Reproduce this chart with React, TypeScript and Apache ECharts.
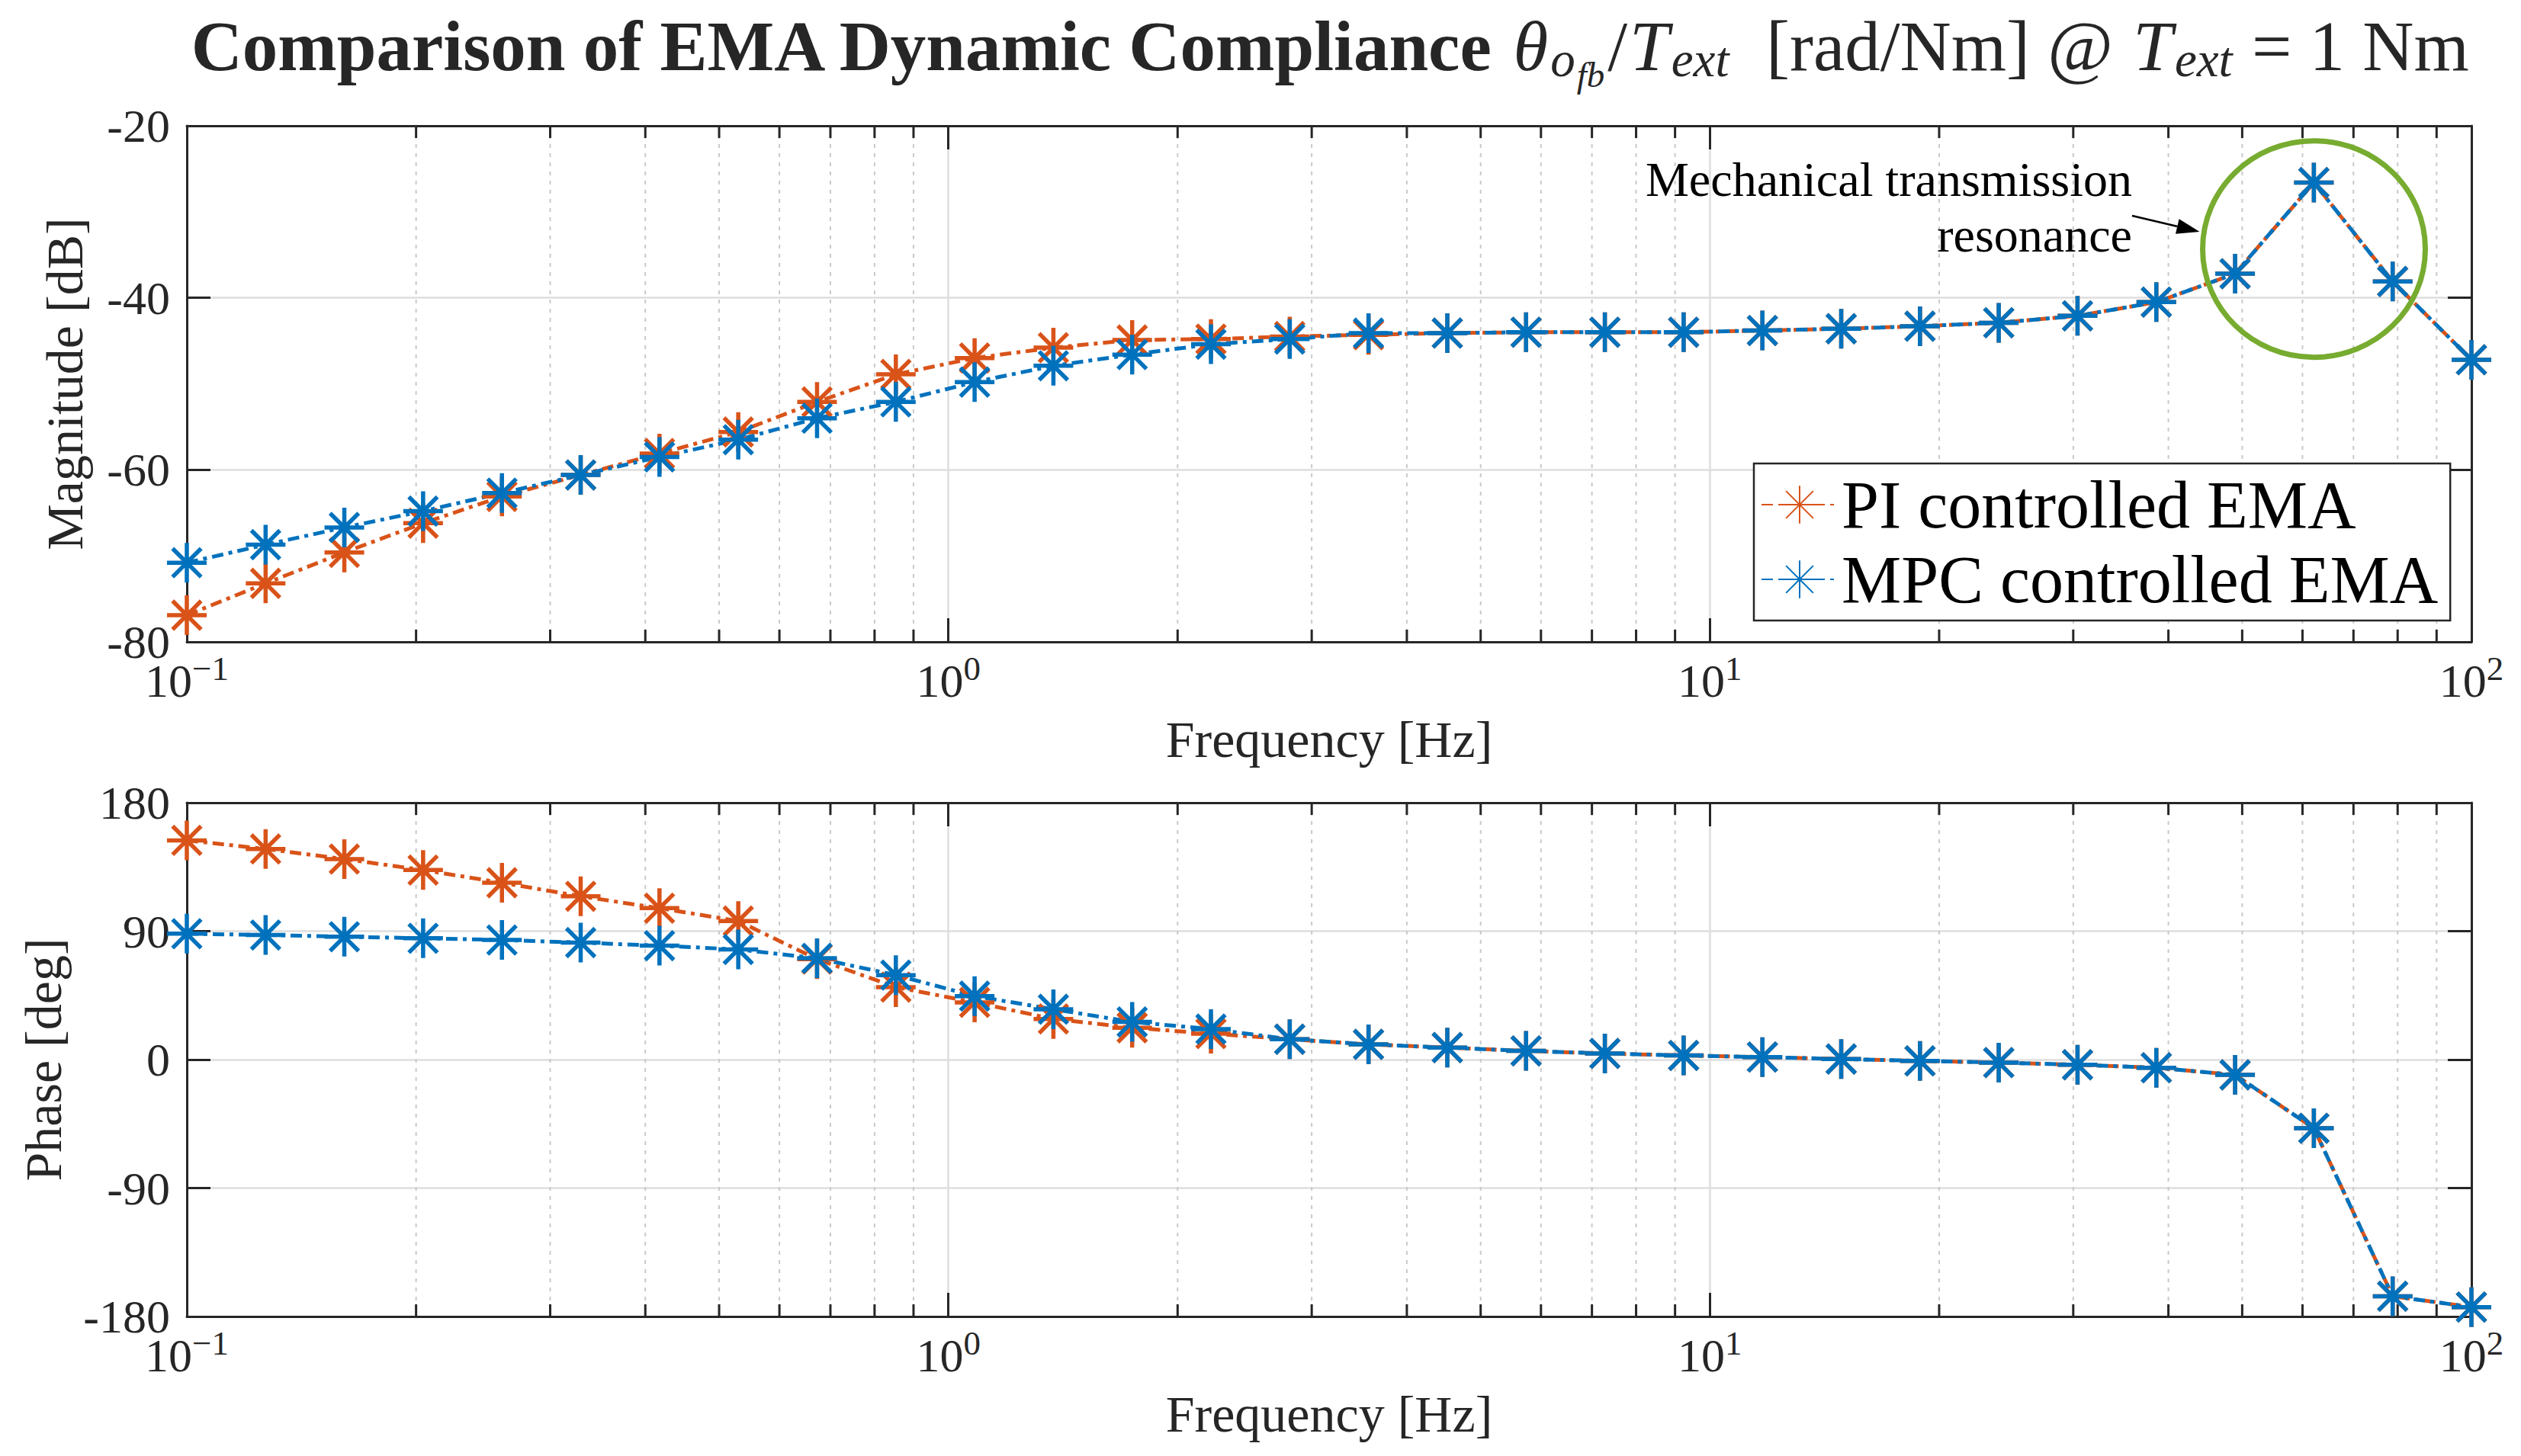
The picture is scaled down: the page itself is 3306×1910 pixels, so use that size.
import React, { useEffect, useRef } from "react";
import * as echarts from "echarts";

// ---- data ----
const FREQS = [
  0.1, 0.1269, 0.161, 0.2043, 0.2593, 0.329, 0.4175, 0.5298, 0.6723, 0.8532,
  1.0826, 1.3738, 1.7433, 2.2122, 2.8072, 3.5622, 4.5204, 5.7362, 7.279, 9.2367,
  11.721, 14.874, 18.874, 23.95, 30.392, 38.566, 48.939, 62.102, 78.805, 100,
];
const PI_MAG = [
  -76.9, -73.2, -69.6, -66.2, -63.1, -60.6, -58.1, -55.6, -52.1, -48.9,
  -47.0, -45.8, -44.9, -44.8, -44.5, -44.3, -44.1, -44.0, -44.0, -44.0,
  -43.8, -43.6, -43.3, -42.9, -42.1, -40.5, -37.2, -26.6, -38.1, -47.2,
];
const MPC_MAG = [
  -70.8, -68.7, -66.7, -64.8, -62.7, -60.6, -58.5, -56.5, -54.0, -52.1,
  -49.8, -47.9, -46.6, -45.4, -44.8, -44.1, -44.1, -44.0, -44.0, -44.0,
  -43.8, -43.6, -43.3, -42.9, -42.1, -40.5, -37.2, -26.6, -38.1, -47.2,
];
const PI_PHASE = [
  153.6, 147.6, 140.5, 132.8, 123.9, 114.4, 106.1, 97.1, 70.4, 50.8,
  40.1, 28.5, 22.3, 18.2, 14.3, 10.7, 8.4, 6.1, 4.3, 2.9,
  1.8, 0.4, -0.9, -2.1, -3.6, -5.7, -10.7, -48.1, -165.8, -173.4,
];
const MPC_PHASE = [
  88.2, 87.3, 86.1, 85.0, 83.8, 82.0, 79.8, 77.2, 71.0, 59.2,
  44.5, 35.3, 26.4, 21.4, 14.3, 10.7, 8.4, 6.1, 4.3, 2.9,
  1.8, 0.4, -0.9, -2.1, -3.6, -5.7, -10.7, -48.1, -165.8, -173.4,
];
const MINOR_FREQS = [
  0.2, 0.3, 0.4, 0.5, 0.6, 0.7, 0.8, 0.9,
  2, 3, 4, 5, 6, 7, 8, 9,
  20, 30, 40, 50, 60, 70, 80, 90,
];
const SERIES_NAMES = ["PI controlled EMA", "MPC controlled EMA"];
const MAG_RANGE = { min: -80, max: -20, interval: 20 };
const PHASE_RANGE = { min: -180, max: 180, interval: 90 };
const FREQ_RANGE = { min: 0.1, max: 100 };

const C_PI = "#D95319";
const C_MPC = "#0072BD";
const C_AX = "#262626";
const FONT = "Liberation Serif";
const STAR = "path://M0 -1 L0 1 M-1 0 L1 0 M-0.72 -0.72 L0.72 0.72 M-0.72 0.72 L0.72 -0.72";

const zip = (xs: number[], ys: number[]) => xs.map((x, i) => [x, ys[i]]);

function xLabelFmt(v: number) {
  const e = Math.round(Math.log10(v));
  return `{b|10}{s|${e < 0 ? "\u2212" + -e : e}}`;
}

function bottomX(gridIndex: number) {
  return {
    type: "log",
    logBase: 10,
    gridIndex,
    position: "bottom",
    min: FREQ_RANGE.min,
    max: FREQ_RANGE.max,
    splitNumber: 3,
    axisLine: { show: true, onZero: false, lineStyle: { color: C_AX, width: 3 } },
    axisTick: { show: true, inside: true, length: 31, lineStyle: { color: C_AX, width: 3 } },
    axisLabel: {
      formatter: xLabelFmt,
      margin: 28,
      rich: {
        b: { fontSize: 62, fontFamily: FONT, color: C_AX, lineHeight: 46 },
        s: { fontSize: 45, fontFamily: FONT, color: C_AX, lineHeight: 46, padding: [0, 0, 32, 0] },
      },
    },
    splitLine: { show: true, lineStyle: { color: "#DEDEDE", width: 2.5 } },
    minorTick: { show: false },
    name: "Frequency [Hz]",
    nameLocation: "middle",
    nameGap: 94,
    nameTextStyle: { fontSize: 68, fontFamily: FONT, color: C_AX },
  };
}
function topX(gridIndex: number) {
  return {
    type: "log",
    logBase: 10,
    gridIndex,
    position: "top",
    min: FREQ_RANGE.min,
    max: FREQ_RANGE.max,
    splitNumber: 3,
    axisLine: { show: true, onZero: false, lineStyle: { color: C_AX, width: 3 } },
    axisTick: { show: true, inside: true, length: 31, lineStyle: { color: C_AX, width: 3 } },
    axisLabel: { show: false },
    splitLine: { show: false },
  };
}
function leftY(gridIndex: number, r: any, name: string, gap: number) {
  return {
    type: "value",
    gridIndex,
    position: "left",
    min: r.min,
    max: r.max,
    interval: r.interval,
    axisLine: { show: true, onZero: false, lineStyle: { color: C_AX, width: 3 } },
    axisTick: { show: true, inside: true, length: 31, lineStyle: { color: C_AX, width: 3 } },
    axisLabel: { fontSize: 62, fontFamily: FONT, color: C_AX, margin: 22, lineHeight: 44 },
    splitLine: { show: true, lineStyle: { color: "#DEDEDE", width: 2.5 } },
    name,
    nameLocation: "middle",
    nameGap: gap,
    nameTextStyle: { fontSize: 68, fontFamily: FONT, color: C_AX },
  };
}
function rightY(gridIndex: number, r: any) {
  return {
    type: "value",
    gridIndex,
    position: "right",
    min: r.min,
    max: r.max,
    interval: r.interval,
    axisLine: { show: true, onZero: false, lineStyle: { color: C_AX, width: 3 } },
    axisTick: { show: true, inside: true, length: 31, lineStyle: { color: C_AX, width: 3 } },
    axisLabel: { show: false },
    splitLine: { show: false },
  };
}

function lineSeries(name: string, color: string, data: number[][], ax: number) {
  return {
    type: "line",
    name,
    xAxisIndex: ax,
    yAxisIndex: ax,
    data,
    symbol: STAR,
    symbolSize: 52,
    symbolKeepAspect: true,
    showSymbol: true,
    showAllSymbol: true,
    color,
    itemStyle: { color, borderColor: color, borderWidth: 5.5 },
    lineStyle: { color, width: 5, type: [15, 7, 5, 7] },
    emphasis: { disabled: true },
    z: 3,
  };
}

function minorSeries(ax: number, yRef: number) {
  return {
    type: "custom",
    name: "minor",
    xAxisIndex: ax,
    yAxisIndex: ax,
    z: 1,
    silent: true,
    data: MINOR_FREQS.map((f) => [f, yRef]),
    encode: { x: 0, y: 1 },
    renderItem: (params: any, api: any) => {
      const cs = params.coordSys;
      const x = api.coord([api.value(0), api.value(1)])[0];
      const top = cs.y;
      const bot = cs.y + cs.height;
      return {
        type: "group",
        children: [
          { type: "line", shape: { x1: x, y1: top, x2: x, y2: bot }, style: { stroke: "#C9C9C9", lineWidth: 2, lineDash: [5, 7] } },
          { type: "line", shape: { x1: x, y1: bot, x2: x, y2: bot - 16 }, style: { stroke: C_AX, lineWidth: 3 } },
          { type: "line", shape: { x1: x, y1: top, x2: x, y2: top + 16 }, style: { stroke: C_AX, lineWidth: 3 } },
        ],
      };
    },
  };
}

// arrow geometry for the annotation
const ARROW = { x1: 2796, y1: 283, x2: 2884.5, y2: 304, head: 30, half: 10 };
function arrowHead() {
  const dx = ARROW.x2 - ARROW.x1;
  const dy = ARROW.y2 - ARROW.y1;
  const L = Math.hypot(dx, dy);
  const ux = dx / L, uy = dy / L;
  const bx = ARROW.x2 - ux * ARROW.head, by = ARROW.y2 - uy * ARROW.head;
  const px = -uy * ARROW.half, py = ux * ARROW.half;
  return {
    base: [bx, by],
    pts: [[ARROW.x2, ARROW.y2], [bx + px, by + py], [bx - px, by - py]],
  };
}

export default function App() {
  const ref = useRef<HTMLDivElement>(null);
  useEffect(() => {
    if (!ref.current) return;
    const chart = echarts.init(ref.current, undefined, { renderer: "svg" });
    const head = arrowHead();
    const TF = 93;
    const titleRich = {
      b: { fontSize: TF, fontWeight: "bold", fontFamily: FONT, fill: C_AX, color: C_AX, lineHeight: 140 },
      r: { fontSize: TF, fontFamily: FONT, fill: C_AX, color: C_AX, lineHeight: 140 },
      m: { fontSize: TF, fontStyle: "italic", fontFamily: FONT, fill: C_AX, color: C_AX, lineHeight: 140, padding: [0, 3, 0, 3] },
      s1: { fontSize: 65, fontStyle: "italic", fontFamily: FONT, fill: C_AX, color: C_AX, padding: [36, 2, 0, 0] },
      s2: { fontSize: 47, fontStyle: "italic", fontFamily: FONT, fill: C_AX, color: C_AX, padding: [76, 4, 0, 0] },
    };
    chart.setOption({
      animation: false,
      backgroundColor: "#ffffff",
      textStyle: { fontFamily: FONT },
      grid: [
        { left: 245, top: 165, width: 2996, height: 677, containLabel: false },
        { left: 245, top: 1053, width: 2996, height: 674, containLabel: false },
      ],
      xAxis: [bottomX(0), topX(0), bottomX(1), topX(1)],
      yAxis: [
        leftY(0, MAG_RANGE, "Magnitude [dB]", 126),
        rightY(0, MAG_RANGE),
        leftY(1, PHASE_RANGE, "Phase [deg]", 154),
        rightY(1, PHASE_RANGE),
      ],
      legend: {
        data: SERIES_NAMES,
        orient: "vertical",
        left: 2300,
        top: 608,
        itemWidth: 100,
        itemHeight: 62,
        itemGap: 10,
        padding: [10, 16, 10, 9],
        backgroundColor: "#ffffff",
        borderColor: C_AX,
        borderWidth: 2.5,
        selectedMode: false,
        textStyle: { fontSize: 88, fontFamily: FONT, color: "#000000", lineHeight: 88 },
        z: 10,
      },
      series: [
        minorSeries(0, -50),
        minorSeries(2, 0),
        lineSeries(SERIES_NAMES[0], C_PI, zip(FREQS, PI_MAG), 0),
        lineSeries(SERIES_NAMES[1], C_MPC, zip(FREQS, MPC_MAG), 0),
        lineSeries(SERIES_NAMES[0], C_PI, zip(FREQS, PI_PHASE), 2),
        lineSeries(SERIES_NAMES[1], C_MPC, zip(FREQS, MPC_PHASE), 2),
      ],
      graphic: [
        {
          type: "text",
          x: 1743,
          y: 60,
          style: {
            text:
              "{b|Comparison of EMA Dynamic Compliance }{m|\u03b8}{s1|o}{s2|fb}{r|/}{m|T}{s1|ext}{r|  [rad/Nm] @ }{m|T}{s1|ext}{r| = 1 Nm}",
            rich: titleRich,
            align: "center",
            verticalAlign: "middle",
          },
        },
        {
          type: "text",
          x: 2796,
          y: 235,
          style: { text: "Mechanical transmission", fontSize: 64, fontFamily: FONT, fill: "#000000", align: "right", verticalAlign: "middle" },
          z: 20,
        },
        {
          type: "text",
          x: 2796,
          y: 308,
          style: { text: "resonance", fontSize: 64, fontFamily: FONT, fill: "#000000", align: "right", verticalAlign: "middle" },
          z: 20,
        },
        {
          type: "line",
          shape: { x1: ARROW.x1, y1: ARROW.y1, x2: head.base[0], y2: head.base[1] },
          style: { stroke: "#000000", lineWidth: 2.5 },
          z: 20,
        },
        {
          type: "polygon",
          shape: { points: head.pts },
          style: { fill: "#000000" },
          z: 20,
        },
        {
          type: "ellipse",
          shape: { cx: 3034.5, cy: 326.7, rx: 146, ry: 142 },
          style: { fill: "none", stroke: "#77AC30", lineWidth: 7 },
          z: 20,
        },
      ],
    });
    return () => chart.dispose();
  }, []);
  return (
    <div
      ref={ref}
      style={{ position: "fixed", left: 0, top: 0, width: 3306, height: 1910, background: "#fff" }}
    />
  );
}
